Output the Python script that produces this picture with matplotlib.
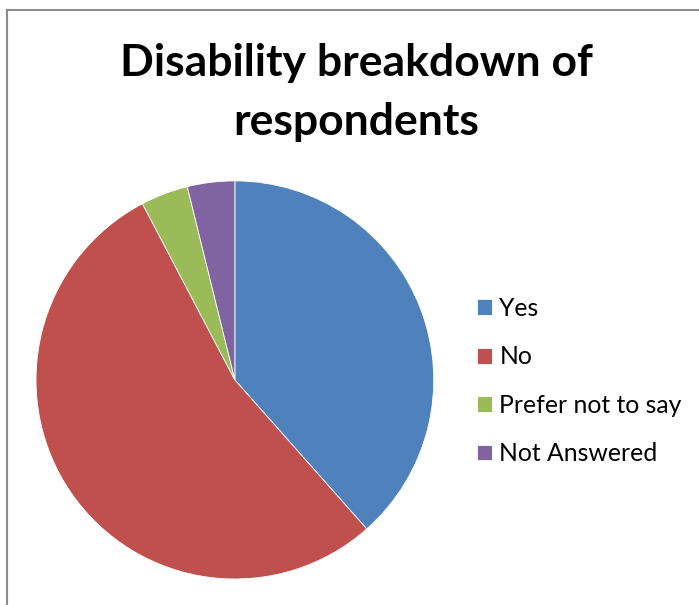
import matplotlib
matplotlib.use("Agg")
import matplotlib.pyplot as plt
from matplotlib.lines import Line2D

categories = ["Yes", "No", "Prefer not to say", "Not Answered"]
counts = [10, 14, 1, 1]
colors = ["#4F81BD", "#C0504D", "#9BBB59", "#8064A2"]
title = "Disability breakdown of\nrespondents"

plt.rcParams["font.family"] = ["Lato", "DejaVu Sans"]

fig = plt.figure(figsize=(6.99, 6.05), dpi=100)
fig.patch.set_facecolor("white")

ax = fig.add_axes([0.0515, 0.043, 0.569, 0.658])
wedges, _ = ax.pie(counts, colors=colors, startangle=90, counterclock=False,
                   wedgeprops=dict(linewidth=0.6, edgecolor="white"))
ax.set_aspect("auto")
ax.set_xlim(-1, 1)
ax.set_ylim(-1, 1)
ax.axis("off")

fig.text(0.51, 0.847, title, ha="center", va="center", fontsize=32,
         fontweight="bold", linespacing=1.6)

fig.legend(wedges, categories, loc="center left", bbox_to_anchor=(0.682, 0.370),
           frameon=False, fontsize=17.8, handlelength=0.6, handleheight=0.6,
           handletextpad=0.32, labelspacing=1.03, borderpad=0, borderaxespad=0)

# chart-area border (left and top edges visible)
fig.add_artist(Line2D([0.0107, 0.0107], [0.0, 0.9835], color="#8C8C8C", linewidth=1.5,
                      transform=fig.transFigure))
fig.add_artist(Line2D([0.0107, 1.0], [0.9835, 0.9835], color="#8C8C8C", linewidth=1.5,
                      transform=fig.transFigure))

fig.savefig("out.png", dpi=100)
